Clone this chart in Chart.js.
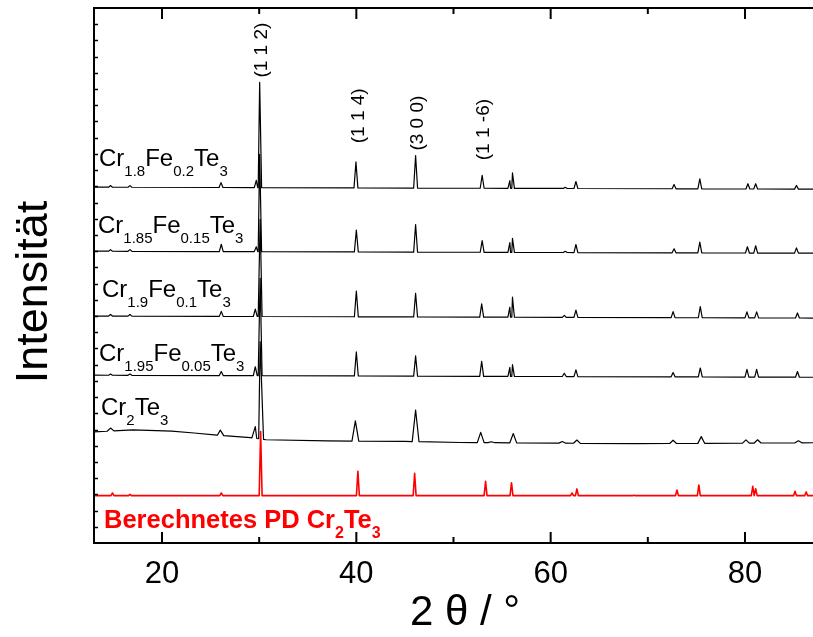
<!DOCTYPE html>
<html>
<head>
<meta charset="utf-8">
<script src="https://cdn.jsdelivr.net/npm/chart.js@4.4.0/dist/chart.umd.min.js"></script>
<style>
  html, body { margin: 0; padding: 0; background: #fff; }
  #wrap { width: 813px; height: 637px; }
</style>
</head>
<body>
<div id="wrap"><canvas id="xrd"></canvas></div>
<script>
// 2θ window
const thetaMin = 13, thetaMax = 87;
const xTicks = [20, 40, 60, 80];
const xMinorTicks = [30, 50, 70];

// reflections: [2θ, height above background] (a.u.)
const peaksCr18 = [[14.7,2],[16.7,2],[26.07,6],[29.7,9],[30.05,130],[39.96,32],[46.1,40],[52.95,16],[55.8,9.5],[56.07,19],[61.5,1.5],[62.6,8.6],[72.7,5.3],[75.35,12.3],[80.3,6.5],[81.1,6.5],[85.3,4.5]];
const peaksCr185 = [[14.7,2],[16.7,2],[26.1,9],[29.7,6],[30.05,120],[40.0,27],[46.1,34],[52.95,14.4],[55.8,12],[56.07,17.3],[61.5,1.5],[62.6,9.9],[72.7,5],[75.35,13.2],[80.25,7.8],[81.1,9],[85.3,6.5]];
const peaksCr19 = [[14.7,2],[16.7,2],[26.1,6.2],[29.6,9],[30.1,120],[40.0,31.7],[46.1,29.2],[52.9,16.4],[55.8,12.3],[56.07,24.7],[61.4,2.5],[62.6,9],[72.6,7.4],[75.4,13.6],[80.2,7.4],[81.2,7.4],[85.4,6.2]];
const peaksCr195 = [[14.7,1.5],[16.7,1.5],[26.1,5],[29.6,11],[30.1,120],[40.0,29.6],[46.1,25],[52.9,18.5],[55.8,11],[56.07,14.4],[61.4,4],[62.6,8.3],[72.6,5.3],[75.4,11],[80.2,9.5],[81.2,9.5],[85.4,7]];
const peaksCr2 = [[14.7,3.7],[26.0,6.5],[29.6,14.4],[30.1,120],[39.9,25],[46.1,39],[52.8,12.7],[53.9,1.2],[56.15,11.5],[61.2,2],[62.7,4],[72.6,4],[75.5,8.3],[80.1,4],[81.3,4],[85.5,2.5]];
const peaksCalc = [[14.9,3.3],[16.7,1.6],[26.1,3.3],[30.15,79],[40.16,30],[46.0,27.5],[53.3,17.6],[55.97,16],[62.2,3.3],[62.7,8.3],[68.6,0.6],[73.0,7],[75.25,13.2],[80.8,11.5],[81.1,8.6],[85.15,5.3],[86.3,4.6]];

// background (stacked offset included): [2θ, level]
const bgCr18 = [[13,439],[87,436.5]];
const bgCr185 = [[13,360],[87,357.5]];
const bgCr19 = [[13,280],[87,277.5]];
const bgCr195 = [[13,207],[87,204.5]];
const bgCr2 = [[13,137],[17,139.5],[21,138],[23.3,135.7],[25.7,133],[29.1,130],[30.7,127.4],[37,126],[45,125.3],[50.7,124],[68.8,122.5],[87,123.7]];
const bgCalc = [[13,58.4],[87,58.4]];

// sample names as [text, subscript?] parts
const nameCr18 = [['Cr',0],['1.8',1],['Fe',0],['0.2',1],['Te',0],['3',1]];
const nameCr185 = [['Cr',0],['1.85',1],['Fe',0],['0.15',1],['Te',0],['3',1]];
const nameCr19 = [['Cr',0],['1.9',1],['Fe',0],['0.1',1],['Te',0],['3',1]];
const nameCr195 = [['Cr',0],['1.95',1],['Fe',0],['0.05',1],['Te',0],['3',1]];
const nameCr2 = [['Cr',0],['2',1],['Te',0],['3',1]];
const nameCalc = [['Berechnetes PD Cr',0],['2',1],['Te',0],['3',1]];

const hklText = ['(1 1 2)', '(1 1 4)', '(3 0 0)', '(1 1 -6)'];
const hklTheta = [30.1, 40.0, 46.1, 52.9];
const hklLevel = [608, 527, 518, 510];

const FONT = "'Liberation Sans', Arial, sans-serif";

function levelAt(bg, x) {
  for (let i = 1; i < bg.length; i++) {
    if (x <= bg[i][0]) {
      const [x0, y0] = bg[i - 1], [x1, y1] = bg[i];
      return y0 + (y1 - y0) * (x - x0) / (x1 - x0);
    }
  }
  return bg[bg.length - 1][1];
}

function trace(bg, peaks, hw) {
  const pts = bg.map(([x, y]) => ({ x, y }));
  peaks.forEach(([p, h]) => {
    pts.push({ x: p - hw, y: levelAt(bg, p - hw) });
    pts.push({ x: p, y: levelAt(bg, p) + h });
    pts.push({ x: p + hw, y: levelAt(bg, p + hw) });
  });
  return pts.sort((a, b) => a.x - b.x);
}

function line(data, color, width) {
  return {
    data, borderColor: color, borderWidth: width, pointRadius: 0,
    tension: 0, borderJoinStyle: 'round', fill: false
  };
}

// formula with subscripts
function drawFormula(ctx, parts, x, y, size, subSize, weight, drop) {
  let cx = x;
  parts.forEach(([t, sub]) => {
    ctx.font = weight + ' ' + (sub ? subSize : size) + 'px ' + FONT;
    ctx.fillText(t, cx, sub ? y + drop : y);
    cx += ctx.measureText(t).width;
  });
}

const decor = {
  id: 'decor',
  afterDatasetsDraw(chart) {
    const { ctx, chartArea: a, scales: { x, y } } = chart;
    ctx.save();
    ctx.strokeStyle = '#000';
    ctx.lineWidth = 2;
    ctx.beginPath();
    ctx.moveTo(chart.width, a.top);
    ctx.lineTo(a.left, a.top);
    ctx.lineTo(a.left, a.bottom);
    ctx.lineTo(chart.width, a.bottom);
    ctx.stroke();

    // inward ticks on bottom and top
    xTicks.concat(xMinorTicks).forEach(v => {
      const px = x.getPixelForValue(v);
      const len = xTicks.includes(v) ? 11 : 6;
      ctx.beginPath();
      ctx.moveTo(px, a.bottom); ctx.lineTo(px, a.bottom - len);
      ctx.moveTo(px, a.top); ctx.lineTo(px, a.top + len);
      ctx.stroke();
    });
    // inward ticks on left
    ctx.lineWidth = 1.5;
    for (let v = 20; v < y.max; v += 20) {
      const py = Math.round(y.getPixelForValue(v)) + 0.5;
      ctx.beginPath();
      ctx.moveTo(a.left, py); ctx.lineTo(a.left + 4, py);
      ctx.stroke();
    }

    // sample labels
    ctx.fillStyle = '#000';
    ctx.textAlign = 'left';
    ctx.textBaseline = 'alphabetic';
    drawFormula(ctx, nameCr18, 99, 166, 24, 15, 'normal', 10);
    drawFormula(ctx, nameCr185, 98, 232.5, 24, 15, 'normal', 10);
    drawFormula(ctx, nameCr19, 102, 297, 24, 15, 'normal', 10);
    drawFormula(ctx, nameCr195, 99, 361, 24, 15, 'normal', 10);
    drawFormula(ctx, nameCr2, 101, 415, 24, 15, 'normal', 10);
    ctx.fillStyle = '#ff0000';
    drawFormula(ctx, nameCalc, 104, 528, 25.5, 16, 'bold', 9.5);

    // hkl labels
    ctx.fillStyle = '#000';
    ctx.font = '19px ' + FONT;
    ctx.textAlign = 'center';
    ctx.textBaseline = 'middle';
    hklText.forEach((t, i) => {
      ctx.save();
      ctx.translate(x.getPixelForValue(hklTheta[i]) + 2, y.getPixelForValue(hklLevel[i]));
      ctx.rotate(-Math.PI / 2);
      ctx.fillText(t, 0, 0);
      ctx.restore();
    });

    // axis titles
    ctx.font = '45px ' + FONT;
    ctx.save();
    ctx.translate(35, 292);
    ctx.rotate(-Math.PI / 2);
    ctx.fillText('Intensität', 0, 0);
    ctx.restore();
    ctx.font = '42px ' + FONT;
    ctx.fillText('2 θ / °', 465, 613);
    ctx.restore();
  }
};

new Chart(document.getElementById('xrd'), {
  type: 'line',
  data: {
    datasets: [
      line(trace(bgCr18, peaksCr18, 0.2), '#000', 1.2),
      line(trace(bgCr185, peaksCr185, 0.2), '#000', 1.2),
      line(trace(bgCr19, peaksCr19, 0.2), '#000', 1.2),
      line(trace(bgCr195, peaksCr195, 0.2), '#000', 1.2),
      line(trace(bgCr2, peaksCr2, 0.35), '#000', 1.2),
      line(trace(bgCalc, peaksCalc, 0.15), '#ff0000', 1.6)
    ]
  },
  options: {
    responsive: true,
    maintainAspectRatio: false,
    animation: false,
    layout: { padding: { top: 8, right: 0, left: 0, bottom: 0 } },
    plugins: { legend: { display: false }, tooltip: { enabled: false } },
    scales: {
      x: {
        type: 'linear',
        min: thetaMin,
        max: thetaMax,
        afterFit: s => { s.height = 94; },
        afterBuildTicks: s => { s.ticks = xTicks.map(v => ({ value: v })); },
        grid: { display: false, drawTicks: false },
        border: { display: false },
        ticks: { color: '#000', padding: 13, font: { size: 31, family: FONT }, autoSkip: false, maxRotation: 0 }
      },
      y: {
        min: 0,
        max: 660,
        afterFit: s => { s.width = 94; },
        grid: { display: false, drawTicks: false },
        border: { display: false },
        ticks: { display: false }
      }
    }
  },
  plugins: [decor]
});
</script>
</body>
</html>
